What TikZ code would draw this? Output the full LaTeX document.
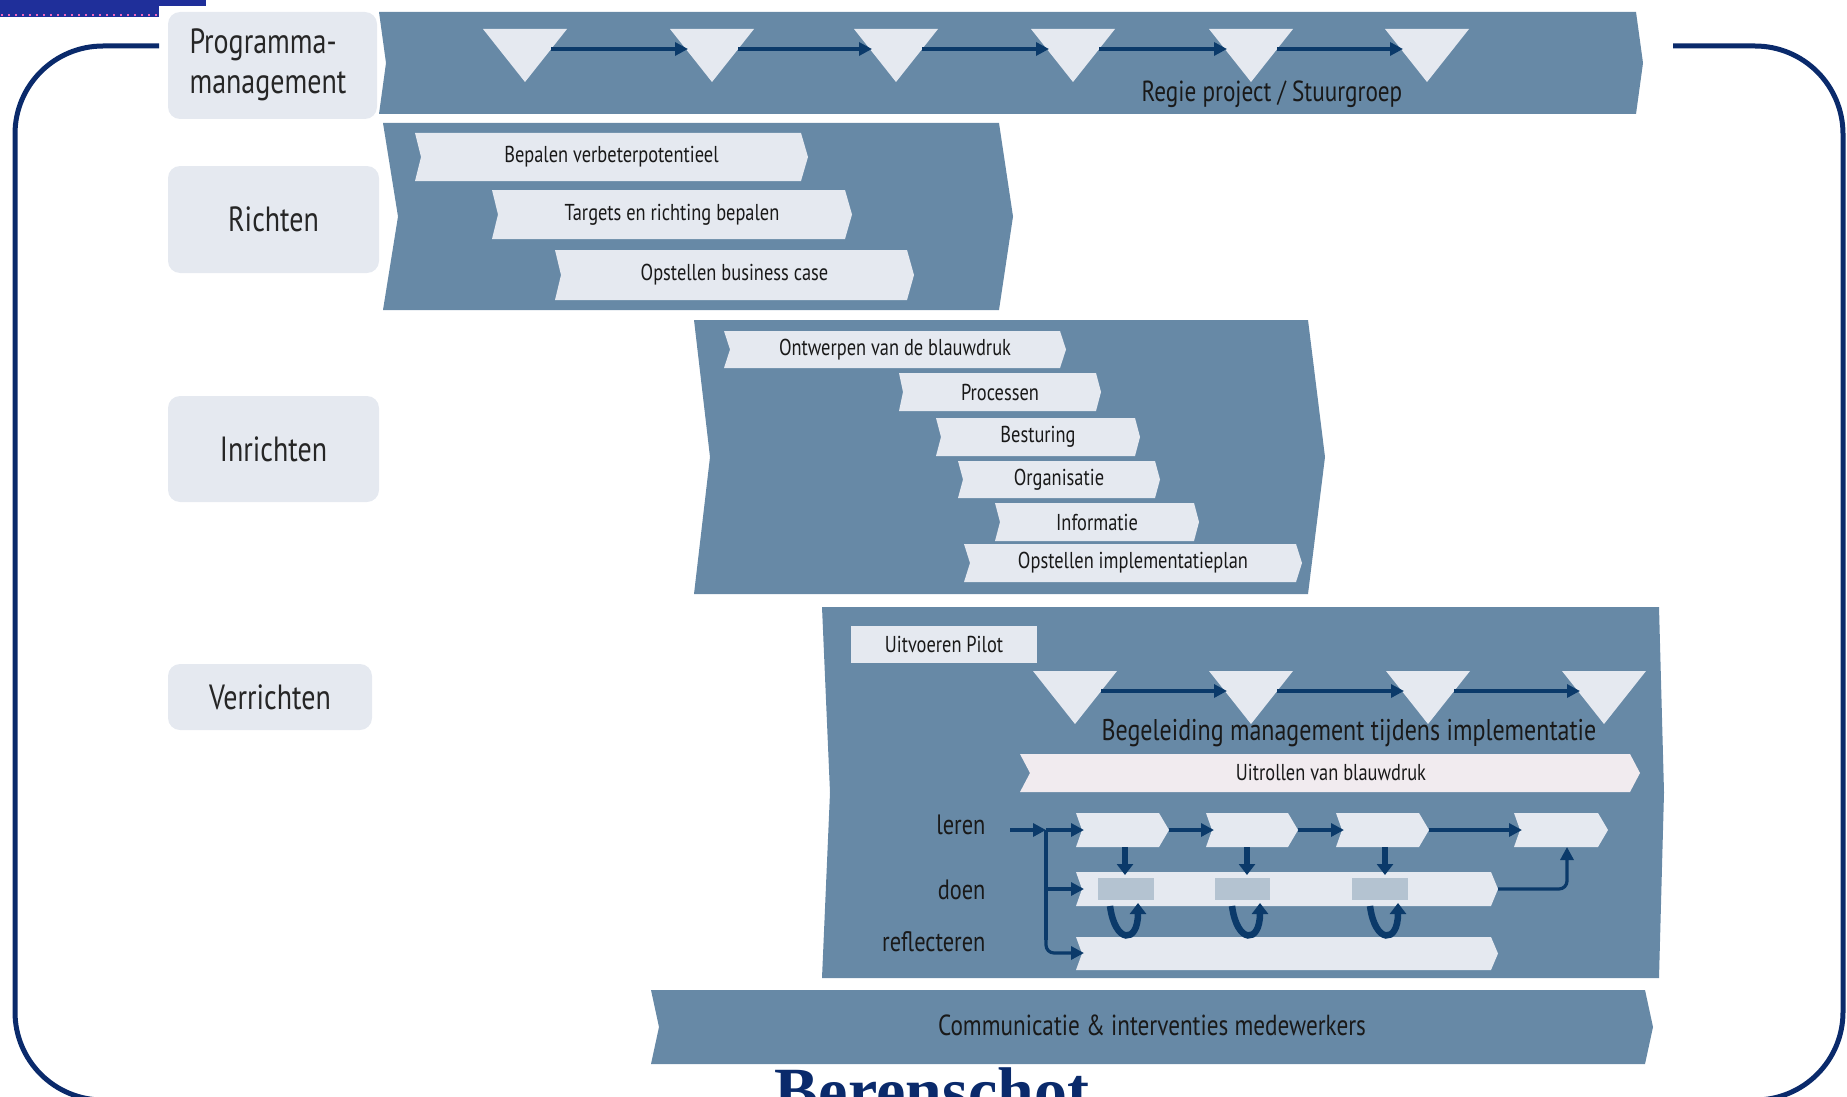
\documentclass[tikz,border=0pt]{standalone}
\usepackage{fontspec}
\setmainfont{PT Sans}
\newfontfamily\cfont[FakeStretch=0.8]{PT Sans}
\newfontfamily\logofont{Liberation Serif}
\usetikzlibrary{arrows.meta}
\definecolor{band}{HTML}{6789A6}
\definecolor{light}{HTML}{E5E9F0}
\definecolor{pinkish}{HTML}{F1EBEF}
\definecolor{navy}{HTML}{0B3A6A}
\definecolor{framec}{HTML}{0A2A6B}
\definecolor{grayrect}{HTML}{B4C3D1}
\definecolor{logoblue}{HTML}{1F2F9A}
% chevron: [style] x1 y1 x2(tip) y2 notch tipdepth
\newcommand{\chev}[7][]{\path[#1] (#2,#3) -- ({#4-#7},#3) -- (#4,{(#3+#5)/2}) -- ({#4-#7},#5) -- (#2,#5) -- ({#2+#6},{(#3+#5)/2}) -- cycle;}
% milestone triangle: name cx top
\newcommand{\mile}[3]{\fill[light] ({#2-42},#3) -- ({#2+42},#3) -- (#2,{#3+53}) -- cycle;
  \coordinate (#1-l) at ({#2-24},{#3+20});
  \coordinate (#1-r) at ({#2+26},{#3+20});}
\begin{document}
\begin{tikzpicture}[x=1pt,y=-1pt,
  labelbox/.style={fill=light, rounded corners=12pt, inner sep=0pt},
  lab/.style={font=\cfont\fontsize{35}{40}\selectfont, text=black!85},
  small/.style={font=\cfont\fontsize{23}{26}\selectfont, text=black!90},
  mid/.style={font=\cfont\fontsize{28}{30}\selectfont, text=black!90},
  arr/.style={navy, line width=3.2pt, -{Triangle[length=13pt,width=13pt]}},
  thickarr/.style={navy, line width=6.5pt, -{Triangle[length=11pt,width=16pt]}}]
\useasboundingbox (0,0) rectangle (1847,1097);
\clip (0,0) rectangle (1847,1097);
% outer frame
\draw[framec, line width=5pt, rounded corners=88pt] (159,46) -- (15,46) -- (15,1100) -- (1843,1100) -- (1843,46) -- (1673,46);
% logo bars top-left
\fill[logoblue] (0,0) rectangle (206,6);
\fill[logoblue] (0,0) rectangle (159,17);
\draw[magenta!60, line width=2pt, dash pattern=on 2pt off 5pt] (1,15) -- (159,15);
% left label boxes
\node[labelbox, minimum width=209pt, minimum height=107pt] (pmbox) at (272.5,65.5) {};
\node[lab, anchor=west, align=left] (pm) at (186,65) {Programma-\\management};
\node[labelbox, minimum width=211pt, minimum height=107pt, lab] (richten) at (273.5,219.5) {Richten};
\node[labelbox, minimum width=211pt, minimum height=106pt, lab] (inrichten) at (273.5,449) {Inrichten};
\node[labelbox, minimum width=204pt, minimum height=66pt, lab] (verrichten) at (270,697) {Verrichten};
% programme management band
\chev[fill=band]{379}{12}{1643}{114}{7}{7}
\mile{m1}{525}{29}
\mile{m2}{712}{29}
\mile{m3}{896}{29}
\mile{m4}{1073}{29}
\mile{m5}{1251}{29}
\mile{m6}{1427}{29}
\draw[arr] (m1-r) -- (m2-l);
\draw[arr] (m2-r) -- (m3-l);
\draw[arr] (m3-r) -- (m4-l);
\draw[arr] (m4-r) -- (m5-l);
\draw[arr] (m5-r) -- (m6-l);
\node[mid, font=\cfont\fontsize{29}{32}\selectfont] (regie) at (1272,94) {Regie project / Stuurgroep};
% Richten band
\chev[fill=band]{383}{123}{1013}{310}{15}{14}
\chev[fill=light]{415}{133}{808}{181}{6}{7}
\chev[fill=light]{492}{190}{852}{239}{6}{7}
\chev[fill=light]{555}{250}{914}{300}{6}{7}
\node[small] (r1) at (611.5,157) {Bepalen verbeterpotentieel};
\node[small] (r2) at (672,214.5) {Targets en richting bepalen};
\node[small] (r3) at (734.5,275) {Opstellen business case};
% Inrichten band
\chev[fill=band]{694}{320}{1325}{594}{16}{17}
\chev[fill=light]{724}{331}{1066}{368}{6}{6}
\chev[fill=light]{899}{373}{1101}{411}{4}{5}
\chev[fill=light]{936}{418}{1140}{456}{5}{5}
\chev[fill=light]{958}{461}{1160}{498}{5}{5}
\chev[fill=light]{995}{503}{1199}{541}{5}{5}
\chev[fill=light]{964}{544}{1302}{582}{6}{6}
\node[small] (i1) at (895,349.5) {Ontwerpen van de blauwdruk};
\node[small] (i2) at (1000,392) {Processen};
\node[small] (i3) at (1038,437) {Besturing};
\node[small] (i4) at (1059,479.5) {Organisatie};
\node[small] (i5) at (1097,522) {Informatie};
\node[small] (i6) at (1133,563) {Opstellen implementatieplan};
% Verrichten band
\chev[fill=band]{822}{607}{1664}{978}{8}{5}
\fill[light] (851,626) rectangle (1037,663);
\node[small] (pilot) at (944,644.5) {Uitvoeren Pilot};
\mile{v1}{1075}{671}
\mile{v2}{1251}{671}
\mile{v3}{1428}{671}
\mile{v4}{1604}{671}
\draw[arr] (v1-r) -- (v2-l);
\draw[arr] (v2-r) -- (v3-l);
\draw[arr] (v3-r) -- (v4-l);
\node[mid, font=\cfont\fontsize{30}{32}\selectfont] (begeleiding) at (1349,733) {Begeleiding management tijdens implementatie};
\chev[fill=pinkish]{1020}{754}{1640}{792}{10}{10}
\node[small] (uitrollen) at (1331,772) {Uitrollen van blauwdruk};
% leren / doen / reflecteren
\node[mid, anchor=east] (leren) at (989,825) {leren};
\node[mid, anchor=east] (doen) at (989,890) {doen};
\node[mid, anchor=east] (reflecteren) at (989,942) {reflecteren};
\chev[fill=light]{1076}{813}{1169}{847}{6}{10}
\chev[fill=light]{1206}{813}{1298}{847}{6}{10}
\chev[fill=light]{1336}{813}{1429}{847}{6}{10}
\chev[fill=light]{1514}{813}{1608}{847}{6}{10}
\chev[fill=light]{1076}{872}{1498}{906}{6}{7}
\chev[fill=light]{1076}{937}{1498}{970}{6}{7}
\fill[grayrect] (1098,878) rectangle (1154,900);
\fill[grayrect] (1215,878) rectangle (1270,900);
\fill[grayrect] (1352,878) rectangle (1408,900);
\coordinate (ls) at (1010,830);
\coordinate (lj) at (1046,830);
\coordinate (c1w) at (1084,830);
\coordinate (c1e) at (1169,830);
\coordinate (c2w) at (1214,830);
\coordinate (c2e) at (1298,830);
\coordinate (c3w) at (1344,830);
\coordinate (c3e) at (1429,830);
\coordinate (c4w) at (1522,830);
\coordinate (dw) at (1084,889);
\coordinate (rw) at (1084,953);
\coordinate (de) at (1498,889);
\coordinate (c4s) at (1567,847);
\draw[arr] (ls) -- (lj);
\draw[arr] (lj) -- (c1w);
\draw[navy, line width=3.2pt] (lj) -- (1046,940);
\draw[arr] (1046,889) -- (dw);
\draw[arr, rounded corners=8pt] (1046,930) -- (1046,953) -- (rw);
\draw[arr] (c1e) -- (c2w);
\draw[arr] (c2e) -- (c3w);
\draw[arr] (c3e) -- (c4w);
\draw[arr, rounded corners=8pt] (de) -- (1567,889) -- (c4s);
\foreach \x in {1125,1247,1385} {
  \draw[thickarr] (\x,847) -- (\x,875);
  \draw[thickarr] ({\x-15},906) .. controls ({\x-10},944) and ({\x+13},944) .. ({\x+13},903);
}
% Communicatie band
\chev[fill=band]{651}{990}{1653}{1064}{8}{8}
\node[mid, font=\cfont\fontsize{29}{32}\selectfont] (comm) at (1152,1025) {Communicatie \& interventies medewerkers};
% logo text (cut off by the bottom edge, as in the reference)
\node[font=\logofont\bfseries\fontsize{66}{66}\selectfont, text=framec, anchor=base] (logo) at (932,1113) {Berenschot};
\end{tikzpicture}
\end{document}
